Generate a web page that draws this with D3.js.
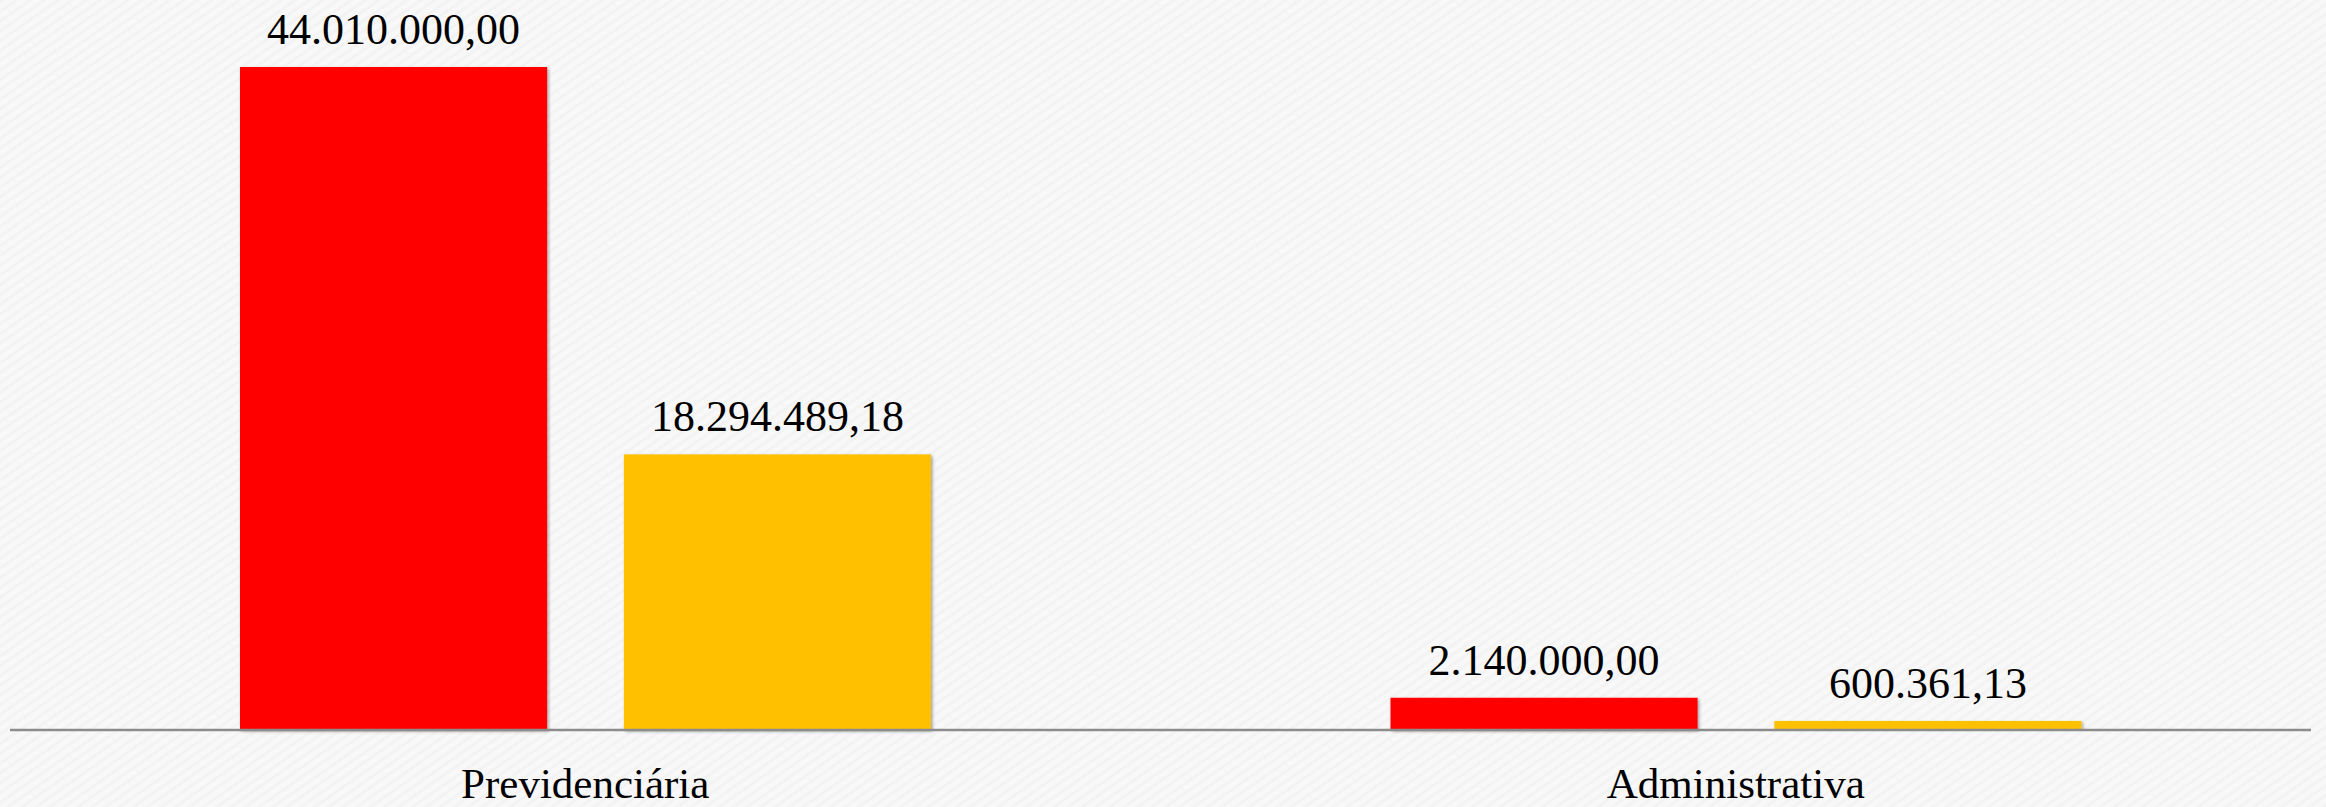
<!DOCTYPE html>
<html>
<head>
<meta charset="utf-8">
<script src="https://cdn.jsdelivr.net/npm/d3@7"></script>
<style>
html,body{margin:0;padding:0;background:#f7f7f7;}
svg{display:block;}
</style>
</head>
<body>
<svg id="chart" width="2326" height="807"></svg>
<script>
const categories = ["Previdenciária", "Administrativa"];
const seriesNames = ["s1", "s2"];
const series1 = [44010000.00, 2140000.00];
const series2 = [18294489.18, 600361.13];
const labels1 = ["44.010.000,00", "2.140.000,00"];
const labels2 = ["18.294.489,18", "600.361,13"];
const colors = ["#FF0000", "#FFC000"];

const svg = d3.select("#chart");
const W = 2326, H = 807;

const defs = svg.append("defs");
const pat = defs.append("pattern").attr("id","tex").attr("width",8).attr("height",8)
  .attr("patternUnits","userSpaceOnUse").attr("patternTransform","rotate(-35)");
pat.append("rect").attr("width",8).attr("height",8).attr("fill","#f8f8f8");
pat.append("rect").attr("width",8).attr("height",3).attr("fill","#f3f3f3");
svg.append("rect").attr("width",W).attr("height",H).attr("fill","url(#tex)");

const flt = defs.append("filter").attr("id","shadow").attr("x","-5%").attr("y","-5%").attr("width","110%").attr("height","115%");
flt.append("feDropShadow").attr("dx",1.5).attr("dy",1.5).attr("stdDeviation",1.5)
  .attr("flood-color","#000").attr("flood-opacity",0.35);

const x0 = d3.scaleBand().domain(categories).range([10, 2311]).padding(0);
const x1 = d3.scaleBand().domain(seriesNames).range([230, 921]).paddingInner(0.2).paddingOuter(0);
const y = d3.scaleLinear().domain([0, 44010000]).range([730, 67]);

const data = categories.map((c, i) => ({
  cat: c,
  vals: [
    {s: "s1", v: series1[i], label: labels1[i], color: colors[0]},
    {s: "s2", v: series2[i], label: labels2[i], color: colors[1]}
  ]
}));

const g = svg.append("g");
const groups = g.selectAll("g.grp").data(data).join("g")
  .attr("class","grp")
  .attr("transform", d => `translate(${x0(d.cat)},0)`);

groups.selectAll("rect").data(d => d.vals).join("rect")
  .attr("x", d => x1(d.s))
  .attr("width", x1.bandwidth())
  .attr("y", d => y(d.v))
  .attr("height", d => y(0) - y(d.v))
  .attr("fill", d => d.color)
  .attr("filter","url(#shadow)");

const xAxis = d3.axisBottom(x0).tickSize(0).tickPadding(0).tickFormat("");
const axG = svg.append("g").attr("transform", `translate(0,${y(0)})`).call(xAxis);
axG.select(".domain").attr("stroke","#8c8c8c").attr("stroke-width",2.5).attr("d", `M10,0H2311`);

groups.selectAll("text.val").data(d => d.vals).join("text")
  .attr("class","val")
  .attr("x", d => x1(d.s) + x1.bandwidth()/2)
  .attr("y", d => y(d.v) - 23)
  .attr("text-anchor","middle")
  .attr("font-family","'Liberation Serif', 'DejaVu Serif', serif")
  .attr("font-size", 44)
  .attr("fill","#000")
  .text(d => d.label);

svg.append("g").selectAll("text").data(categories).join("text")
  .attr("x", d => x0(d) + x0.bandwidth()/2)
  .attr("y", 798)
  .attr("text-anchor","middle")
  .attr("font-family","'Liberation Serif', 'DejaVu Serif', serif")
  .attr("font-size", 43)
  .attr("fill","#000")
  .text(d => d);
</script>
</body>
</html>
